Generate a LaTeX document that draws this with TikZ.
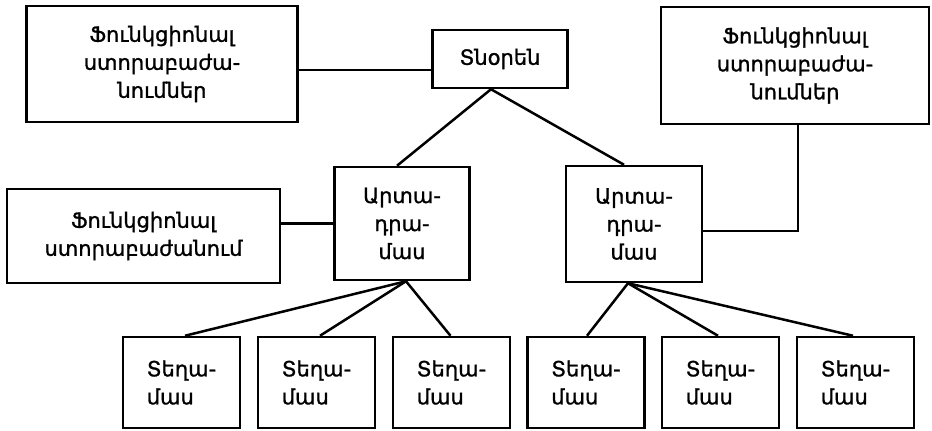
\documentclass[tikz,border=0pt]{standalone}
\usepackage{fontspec}
\newfontfamily\armfont[FakeBold=1.2]{DejaVu Sans}
\tikzset{
  box/.style={draw, line width=2.5pt, inner sep=0pt, font=\armfont\fontsize{21}{28}\selectfont},
  conn/.style={line width=2.5pt},
  smallbox/.style={box, minimum width=117pt, minimum height=91pt, align=left}
}
\begin{document}
\begin{tikzpicture}[x=1pt,y=-1pt]
\useasboundingbox (0,0) rectangle (932,431);
\node[box, minimum width=271pt, minimum height=116pt, align=center] (f1) at (162,64) {Ֆունկցիոնալ\\ստորաբաժա-\\նումներ};
\node[box, minimum width=135pt, minimum height=58pt] (dir) at (500,59) {Տնօրեն};
\node[box, minimum width=268pt, minimum height=117pt, align=center] (f2) at (795,65.5) {Ֆունկցիոնալ\\ստորաբաժա-\\նումներ};
\node[box, minimum width=273pt, minimum height=94pt, align=center] (f3) at (143.5,236) {Ֆունկցիոնալ\\ստորաբաժանում};
\node[box, minimum width=135pt, minimum height=113pt, align=center] (p1) at (402,223.5) {Արտա-\\դրա-\\մաս};
\node[box, minimum width=136pt, minimum height=116pt, align=center] (p2) at (634,224) {Արտա-\\դրա-\\մաս};
\node[smallbox] (s1) at (181.5,382.5) {Տեղա-\\մաս};
\node[smallbox] (s2) at (316.5,382.5) {Տեղա-\\մաս};
\node[smallbox] (s3) at (451.5,382.5) {Տեղա-\\մաս};
\node[smallbox] (s4) at (586,382.5) {Տեղա-\\մաս};
\node[smallbox] (s5) at (720.5,382.5) {Տեղա-\\մաս};
\node[smallbox] (s6) at (855.5,382.5) {Տեղա-\\մաս};
\draw[conn] ([yshift=-6pt]f1.east) -- ([yshift=-6pt]f1.east -| dir.west);
\draw[conn] ([xshift=-9pt]dir.south) -- ([xshift=-5pt]p1.north);
\draw[conn] ([xshift=-9pt]dir.south) -- ([xshift=-10pt]p2.north);
\draw[conn] ([xshift=3pt]f2.south) |- ([yshift=-7pt]p2.east);
\draw[conn] (p1.west) -- (p1.west -| f3.east);
\draw[conn] ([xshift=4pt]p1.south) -- ([xshift=3.5pt]s1.north);
\draw[conn] ([xshift=4pt]p1.south) -- ([xshift=3.5pt]s2.north);
\draw[conn] ([xshift=4pt]p1.south) -- ([xshift=-1pt]s3.north);
\draw[conn] ([xshift=-6pt]p2.south) -- ([xshift=1pt]s4.north);
\draw[conn] ([xshift=-6pt]p2.south) -- ([xshift=-2.5pt]s5.north);
\draw[conn] ([xshift=-6pt]p2.south) -- ([xshift=-2.5pt]s6.north);
\end{tikzpicture}
\end{document}
